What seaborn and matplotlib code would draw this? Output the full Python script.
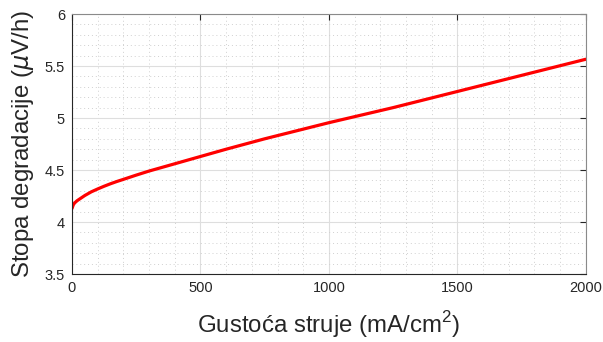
import numpy as np
import pandas as pd
import matplotlib
matplotlib.use('Agg')
import matplotlib.pyplot as plt
import seaborn as sns
from matplotlib.ticker import MultipleLocator, FuncFormatter

# values
current_density = [0, 5, 10, 20, 35, 50, 75, 100, 125, 150, 175, 200, 250, 300, 400,
                   500, 600, 750, 1000, 1250, 1500, 1750, 2000]
degradation_rate = [4.13, 4.165, 4.183, 4.205, 4.23, 4.255, 4.29, 4.318, 4.344, 4.368,
                    4.39, 4.41, 4.451, 4.49, 4.56, 4.63, 4.70, 4.80, 4.955, 5.10,
                    5.255, 5.41, 5.565]

x_ticks = [0, 500, 1000, 1500, 2000]
y_ticks = [3.5, 4, 4.5, 5, 5.5, 6]

df = pd.DataFrame({'x': current_density, 'y': degradation_rate})

sns.set_style('white')
plt.rcParams['font.family'] = ['Liberation Sans', 'DejaVu Sans']
plt.rcParams['mathtext.fontset'] = 'custom'
plt.rcParams['mathtext.rm'] = 'Liberation Sans'
plt.rcParams['mathtext.it'] = 'DejaVu Sans:italic'

fig = plt.figure(figsize=(6.03, 3.42), dpi=100)
ax = fig.add_axes([0.1194, 0.1988, 0.852, 0.7602])

sns.lineplot(data=df, x='x', y='y', color='#ff0000', linewidth=2.3, ax=ax)

ax.set_xlim(0, 2000)
ax.set_ylim(3.5, 6)
ax.set_xticks(x_ticks)
ax.set_yticks(y_ticks)
ax.xaxis.set_minor_locator(MultipleLocator(100))
ax.yaxis.set_minor_locator(MultipleLocator(0.1))
ax.yaxis.set_major_formatter(FuncFormatter(lambda v, p: '%g' % v))

ax.grid(which='major', color='#dedede', linewidth=0.8, linestyle='-')
ax.grid(which='minor', color='#d0d0d0', linewidth=0.7, linestyle=(0, (1, 3)))
ax.set_axisbelow(True)

ax.tick_params(which='major', direction='in', length=4, width=0.8, color='#262626',
               top=True, right=True, labelsize=10.5, labelcolor='#262626', pad=5)
ax.tick_params(which='minor', length=0, top=True, right=True)
for s in ax.spines.values():
    s.set_color('#262626')
    s.set_linewidth(0.8)
for s in ['top', 'right']:
    ax.spines[s].set_color('#8a8a8a')

ax.set_xlabel('Gustoća struje (mA/cm$^2$)', fontsize=17.3, color='#262626', labelpad=10)
ax.set_ylabel('Stopa degradacije ($\\mathit{\\mu}$V/h)', fontsize=17.3, color='#262626',
              labelpad=6)

fig.savefig('out.png', dpi=100)
